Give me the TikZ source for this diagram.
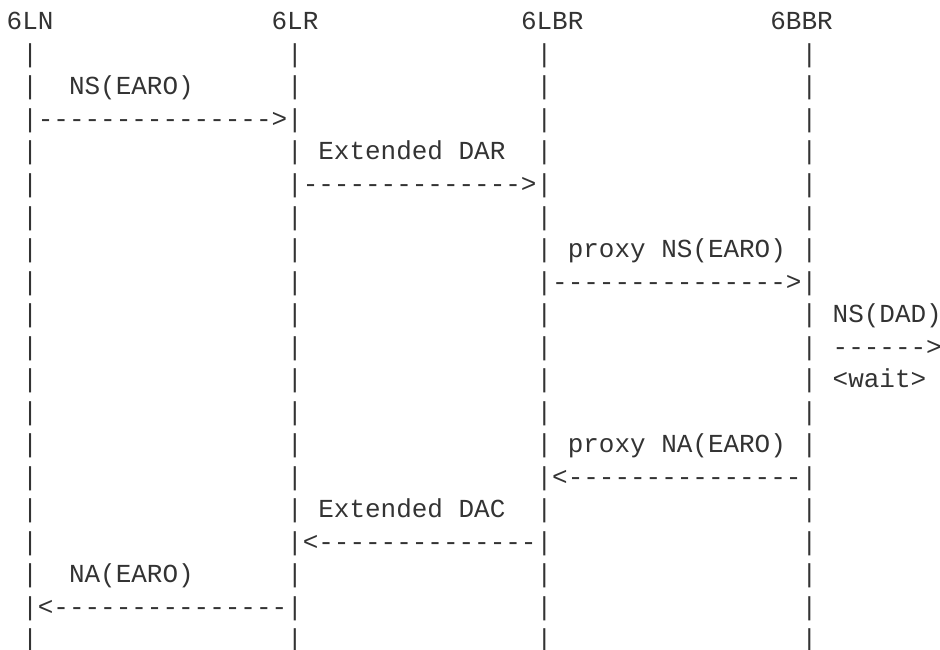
\documentclass[tikz,border=0pt]{standalone}
\usepackage{fontspec}
\setmonofont{Liberation Mono}
\definecolor{ink}{HTML}{333333}
\begin{document}
\begin{tikzpicture}[x=1pt,y=1pt,
  txt/.style={anchor=base west,inner sep=0pt,outer sep=0pt,
    font=\ttfamily\fontsize{25.97}{32.5}\selectfont,text=ink}]
\useasboundingbox (0,0) rectangle (940,-650);
\def\cw{15.585}\def\xo{6.7}\def\lh{32.5}\def\yo{30}
% header row: participants
\foreach \c/\n/\t in {0/pLN/6LN,17/pLR/6LR,33/pLBR/6LBR,49/pBBR/6BBR}
  \node[txt] (\n) at ({\xo+\c*\cw},{-\yo}) {\t};
% lifelines
\foreach \r in {2,...,20}
  \foreach \c/\n in {1/a,18/b,34/c,51/d}
    \node[txt] (life\n\r) at ({\xo+\c*\cw},{-\yo-(\r-1)*\lh}) {|};
% messages and labels
\foreach \c/\r/\n/\t in {
   4/3/lbl1/{NS(EARO)},
   2/4/arr1/{--------------->},
  20/5/lbl2/{Extended DAR},
  19/6/arr2/{-------------->},
  36/8/lbl3/{proxy NS(EARO)},
  35/9/arr3/{--------------->},
  53/10/lbl4/{NS(DAD)},
  53/11/arr4/{------>},
  53/12/lbl5/{<wait>},
  36/14/lbl6/{proxy NA(EARO)},
  35/15/arr5/{<---------------},
  20/16/lbl7/{Extended DAC},
  19/17/arr6/{<--------------},
   4/18/lbl8/{NA(EARO)},
   2/19/arr7/{<---------------}}
  \node[txt] (\n) at ({\xo+\c*\cw},{-\yo-(\r-1)*\lh}) {\t};
\end{tikzpicture}
\end{document}
